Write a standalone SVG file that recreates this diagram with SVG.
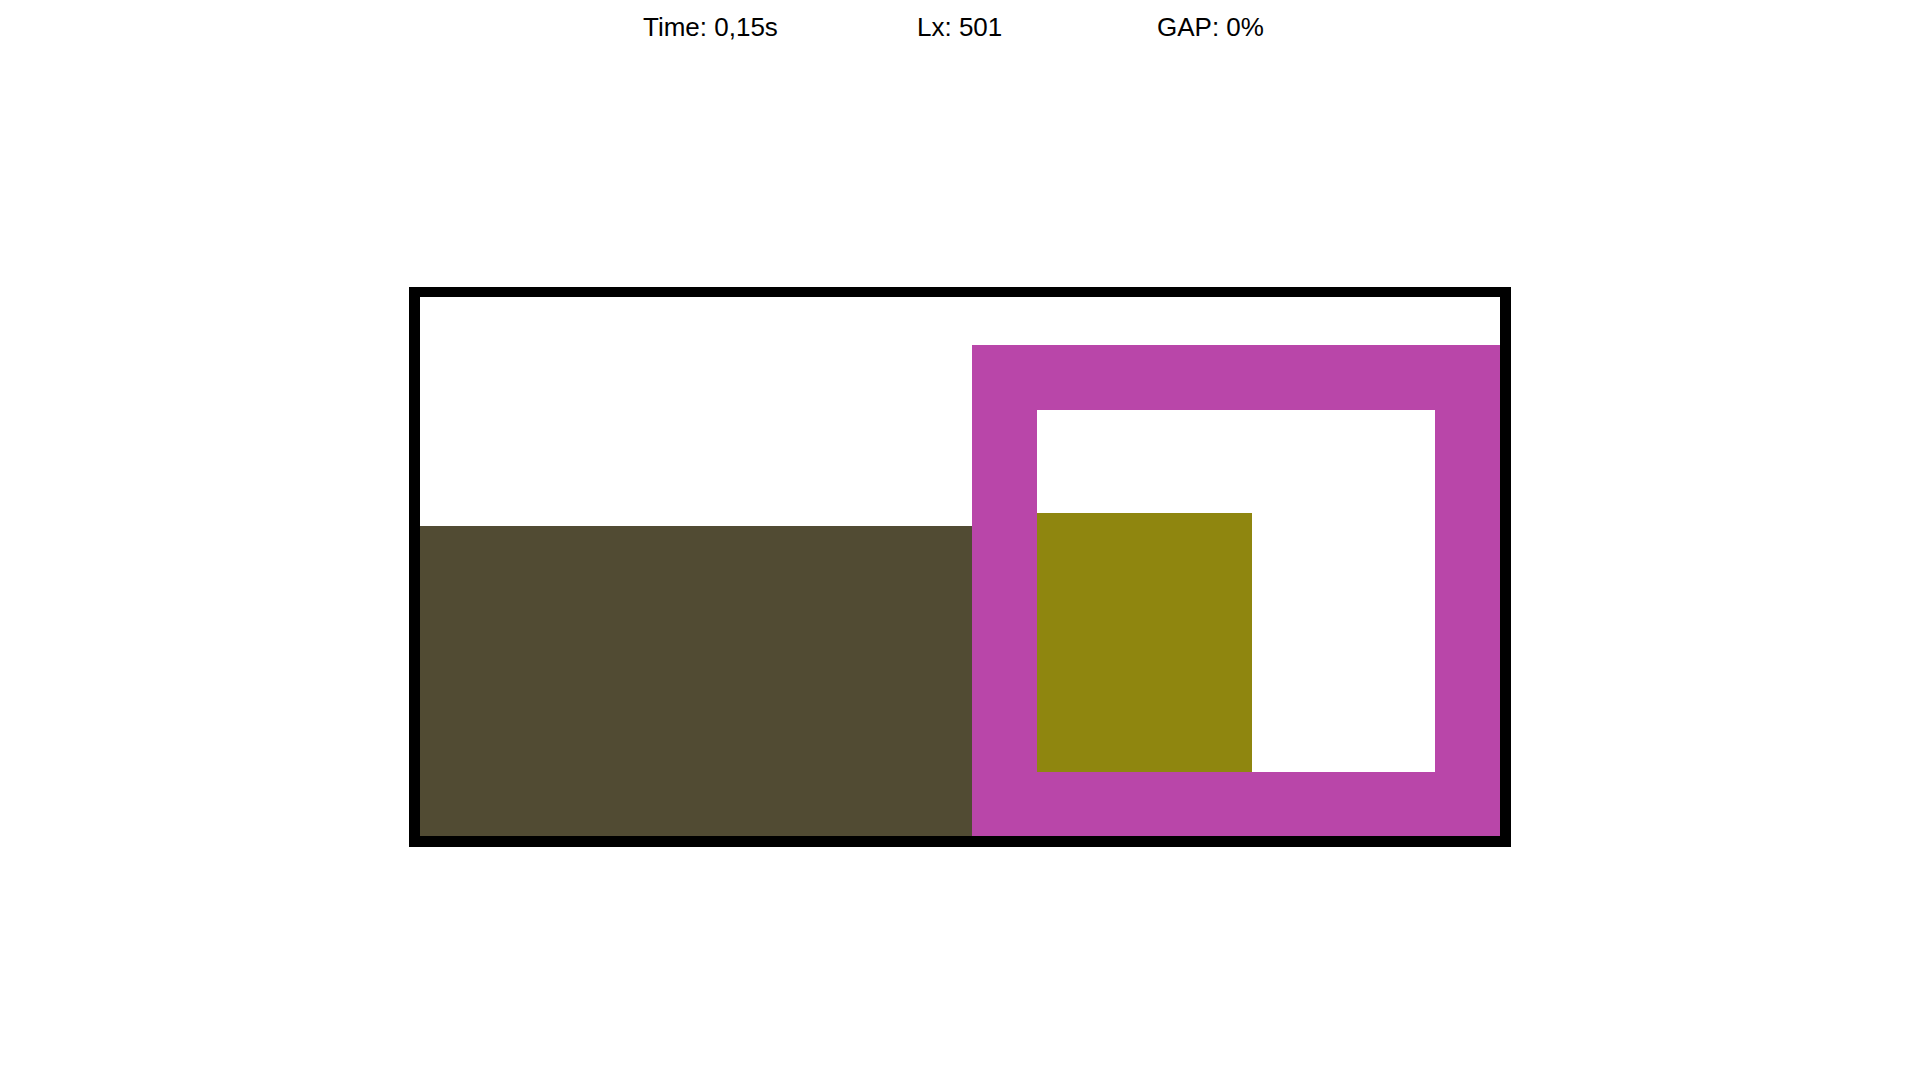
<svg xmlns="http://www.w3.org/2000/svg" width="1920" height="1080" viewBox="0 0 1920 1080">
<style>
.lbl{font-family:"Liberation Sans",Arial,sans-serif;font-size:26px;fill:#000}
</style>
<rect width="1920" height="1080" fill="#fff"/>
<g id="labels">
<text class="lbl" x="643" y="36">Time: 0,15s</text>
<text class="lbl" x="917" y="36">Lx: 501</text>
<text class="lbl" x="1157" y="36">GAP: 0%</text>
</g>
<g id="container">
<rect x="409" y="287" width="1102" height="560" fill="#000"/>
<rect x="420" y="297" width="1080" height="539" fill="#fff"/>
</g>
<g id="fill-left">
<rect x="420" y="526" width="552" height="310" fill="#514b33"/>
</g>
<g id="frame">
<rect x="972" y="345" width="528" height="491" fill="#b946a9"/>
<rect x="1037" y="410" width="398" height="362" fill="#fff"/>
</g>
<g id="block">
<rect x="1037" y="513" width="215" height="259" fill="#8f860f"/>
</g>
<g id="connectors"/>
</svg>
